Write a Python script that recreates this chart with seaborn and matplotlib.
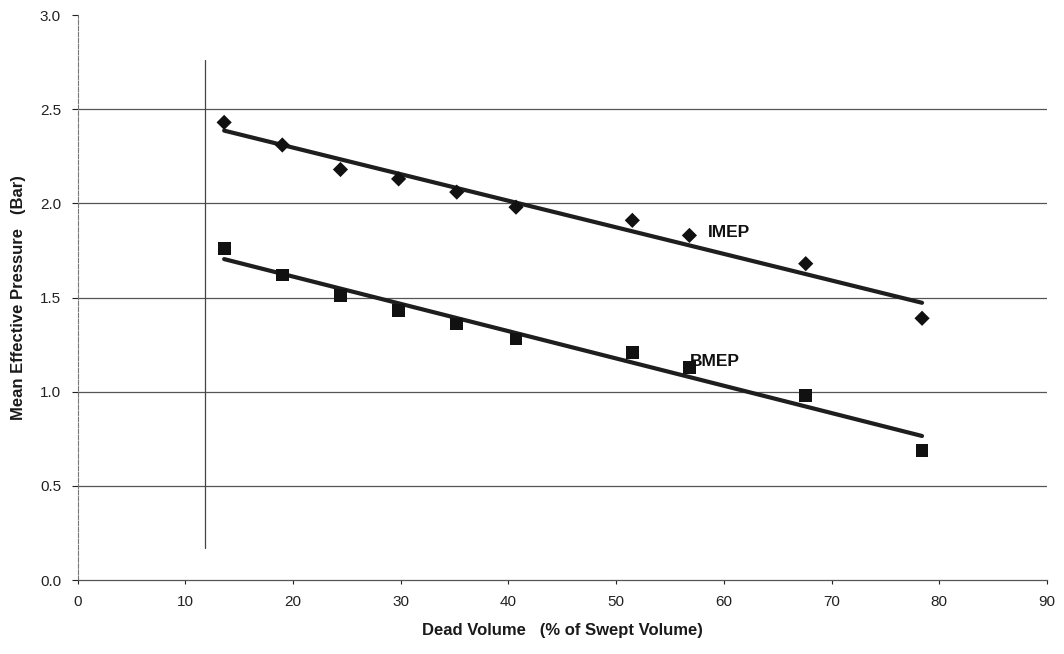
import matplotlib
matplotlib.use("Agg")
import matplotlib.pyplot as plt
import seaborn as sns
import numpy as np
import pandas as pd

# Data
dead_volume = [13.6, 19.0, 24.4, 29.8, 35.2, 40.7, 51.5, 56.8, 67.6, 78.4]
imep = [2.43, 2.31, 2.18, 2.13, 2.06, 1.98, 1.91, 1.83, 1.68, 1.39]
bmep = [1.76, 1.62, 1.51, 1.43, 1.36, 1.28, 1.21, 1.13, 0.98, 0.69]
x_ticks = [0, 10, 20, 30, 40, 50, 60, 70, 80, 90]
y_ticks = [0.0, 0.5, 1.0, 1.5, 2.0, 2.5, 3.0]
vline_x = 11.8
vline_span = (0.17, 2.76)

sns.set_theme(style="white")
plt.rcParams['font.family'] = ['Liberation Sans', 'DejaVu Sans']

df = pd.DataFrame({"dv": dead_volume, "IMEP": imep, "BMEP": bmep})

fig = plt.figure(figsize=(10.64, 6.54), dpi=100)
ax = fig.add_axes([0.073, 0.113, 0.911, 0.864])

for yv in [0.5, 1.0, 1.5, 2.0, 2.5]:
    ax.axhline(yv, color="#555555", lw=0.9, zorder=0)

ax.plot([vline_x, vline_x], list(vline_span), color="#444444", lw=0.9, zorder=1)

sns.regplot(data=df, x="dv", y="IMEP", ax=ax, ci=None, truncate=True,
            marker="D", color="#111111",
            scatter_kws={"s": 60, "edgecolor": "none", "zorder": 3, "alpha": 1},
            line_kws={"lw": 3, "color": "#1e1e1e", "zorder": 2})
sns.regplot(data=df, x="dv", y="BMEP", ax=ax, ci=None, truncate=True,
            marker="s", color="#111111",
            scatter_kws={"s": 85, "edgecolor": "none", "zorder": 3, "alpha": 1},
            line_kws={"lw": 3, "color": "#1e1e1e", "zorder": 2})

ax.text(58.5, 1.845, "IMEP", fontsize=12.5, fontweight="bold", color="#111111",
        va="center", ha="left")
ax.text(56.8, 1.16, "BMEP", fontsize=12.5, fontweight="bold", color="#111111",
        va="center", ha="left")

ax.set_xlim(0, 90)
ax.set_ylim(0, 3.0)
ax.set_xticks(x_ticks)
ax.set_yticks(y_ticks)
ax.set_yticklabels([f"{v:.1f}" for v in y_ticks])
ax.tick_params(axis="both", labelsize=11, colors="#222222", length=4,
               width=0.8, direction="out", pad=8)
ax.tick_params(axis="x", length=3)
ax.xaxis.set_ticks_position("bottom")
ax.yaxis.set_ticks_position("left")

for s in ["top", "right"]:
    ax.spines[s].set_visible(False)
ax.spines["left"].set_color("#777777")
ax.spines["left"].set_linewidth(0.8)
ax.spines["left"].set_linestyle((0, (4, 1.5)))
ax.spines["bottom"].set_color("#555555")
ax.spines["bottom"].set_linewidth(0.9)

ax.set_xlabel("Dead Volume   (% of Swept Volume)", fontsize=12,
              fontweight="bold", color="#1a1a1a", labelpad=10)
ax.set_ylabel("Mean Effective Pressure   (Bar)", fontsize=12,
              fontweight="bold", color="#1a1a1a", labelpad=10)

fig.savefig("out.png", dpi=100)
